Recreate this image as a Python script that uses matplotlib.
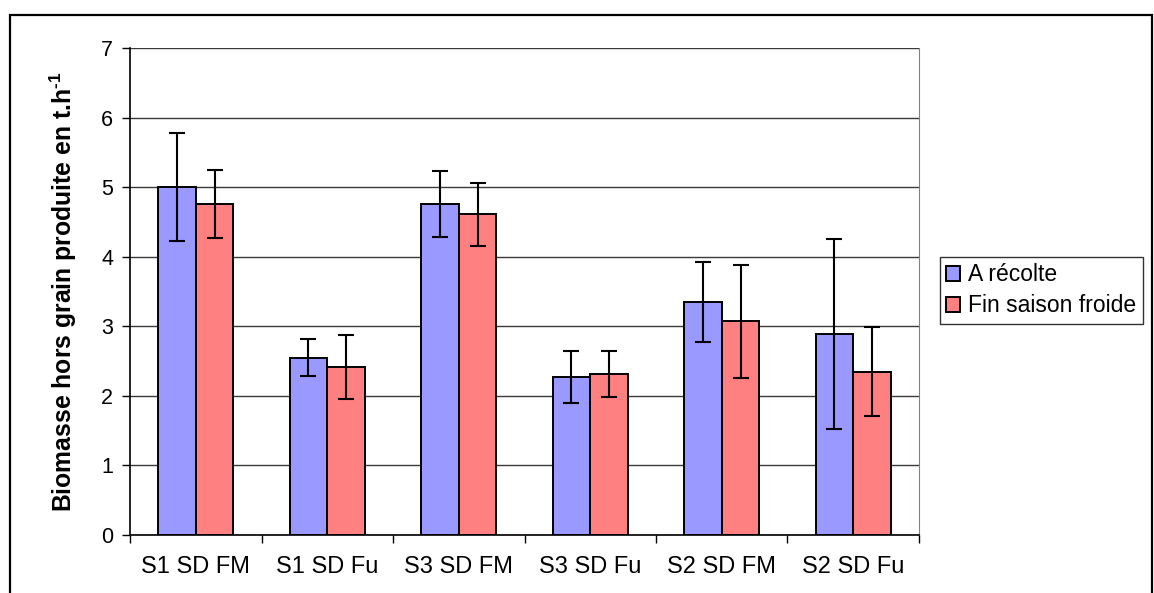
import numpy as np
import matplotlib.pyplot as plt
from matplotlib.patches import Rectangle

plt.rcParams['font.family'] = ['Liberation Sans', 'DejaVu Sans']
plt.rcParams['mathtext.fontset'] = 'custom'
plt.rcParams['mathtext.rm'] = 'Liberation Sans'
plt.rcParams['mathtext.bf'] = 'Liberation Sans:bold'

# Data
categories = ['S1 SD FM', 'S1 SD Fu', 'S3 SD FM', 'S3 SD Fu', 'S2 SD FM', 'S2 SD Fu']
recolte = [5.00, 2.55, 4.76, 2.27, 3.35, 2.89]
recolte_err = [0.78, 0.27, 0.47, 0.37, 0.58, 1.36]
fin_saison = [4.76, 2.41, 4.61, 2.32, 3.07, 2.35]
fin_saison_err = [0.49, 0.46, 0.45, 0.33, 0.81, 0.64]
series_names = ['A récolte', 'Fin saison froide']

fig = plt.figure(figsize=(11.54, 5.93), dpi=100)
ax = fig.add_axes([130 / 1154, 1 - 535 / 593, (919 - 130) / 1154, (535 - 48) / 593])

x = np.arange(len(categories))
w = 0.286
err_kw = dict(ecolor='black', elinewidth=1.5, capsize=6, capthick=1.5)
ax.bar(x - w / 2, recolte, w, color='#9999FF', edgecolor='black', linewidth=1.4,
       yerr=recolte_err, error_kw=err_kw, label=series_names[0], zorder=3)
ax.bar(x + w / 2, fin_saison, w, color='#FF8080', edgecolor='black', linewidth=1.4,
       yerr=fin_saison_err, error_kw=err_kw, label=series_names[1], zorder=3)

# Axes and grid
ax.set_xlim(-0.5, len(categories) - 0.5)
ax.set_ylim(0, 7)
ax.set_yticks(range(8))
ax.yaxis.grid(True, color='#3a3a3a', linewidth=1, zorder=0)
ax.set_xticks(x)
ax.set_xticklabels(categories, fontsize=17)
ax.set_xticks(np.arange(-0.5, len(categories)), minor=True)
ax.tick_params(axis='x', which='major', length=0, pad=15)
ax.tick_params(axis='x', which='minor', length=6, width=1, direction='out')
ax.tick_params(axis='y', labelsize=15.5, length=6, width=1, direction='out', pad=6)

ax.spines['top'].set_visible(False)
ax.spines['right'].set_color('#808080')
ax.spines['left'].set_linewidth(1.2)
ax.spines['bottom'].set_linewidth(1.2)

ax.set_ylabel('Biomasse hors grain produite en t.h$^{\\mathbf{\u2010}\\mathbf{1}}$',
              fontsize=17.8, fontweight='bold', labelpad=16)

# Legend
leg = fig.legend(loc='upper left', bbox_to_anchor=(940 / 1154, 1 - 257 / 593),
                 fontsize=16.5, frameon=True, fancybox=False, borderpad=0.28,
                 handlelength=0.6, handleheight=0.6, handletextpad=0.35,
                 labelspacing=0.35, borderaxespad=0)
leg.get_frame().set_edgecolor('black')
leg.get_frame().set_linewidth(1)

# Outer chart frame
fig.patches.append(Rectangle((10 / 1154, -0.05), (1152 - 10) / 1154, 1.05 - 15 / 593,
                             transform=fig.transFigure, fill=False,
                             edgecolor='black', linewidth=1.6))

plt.savefig('out.png', dpi=100)
